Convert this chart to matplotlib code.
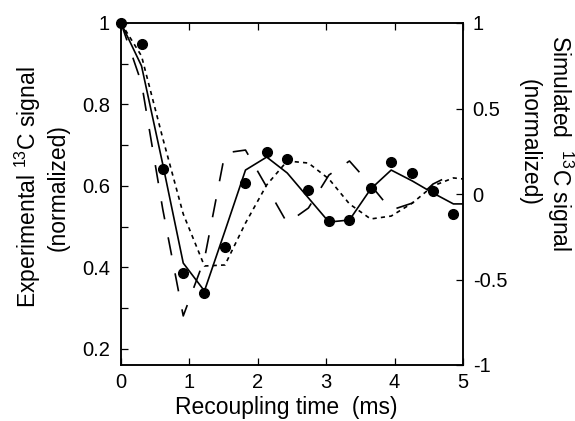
"""
REDOR-style recoupling curves: experimental points (left axis)
with three simulated curves (right axis).
"""

import matplotlib

matplotlib.use("Agg")
import matplotlib.pyplot as plt
from matplotlib.ticker import FormatStrFormatter, MultipleLocator

plt.rcParams["font.family"] = ["Liberation Sans", "DejaVu Sans"]
plt.rcParams["mathtext.fontset"] = "custom"
plt.rcParams["mathtext.rm"] = "Liberation Sans"
plt.rcParams["axes.unicode_minus"] = False

# experimental points, left axis
exp_time = [0.0, 0.30, 0.61, 0.91, 1.22, 1.52, 1.82, 2.13, 2.43,
            2.74, 3.04, 3.34, 3.65, 3.95, 4.26, 4.56, 4.86]
exp_signal = [1.0, 0.948, 0.641, 0.387, 0.337, 0.450, 0.608, 0.683, 0.666,
              0.590, 0.514, 0.517, 0.594, 0.658, 0.632, 0.588, 0.530]

# simulated curves, right axis
sim_time = [0.0, 0.30, 0.61, 0.91, 1.22, 1.52, 1.82, 2.13, 2.43,
            2.74, 3.04, 3.34, 3.65, 3.95, 4.26, 4.56, 4.86, 5.0]
sim_solid = [1.0, 0.749, 0.175, -0.404, -0.567, -0.216, 0.140, 0.216, 0.123,
             -0.023, -0.164, -0.152, 0.029, 0.140, 0.076, 0.006, -0.058, -0.058]
sim_dotted = [1.0, 0.807, 0.327, -0.117, -0.421, -0.415, -0.170, 0.053, 0.193,
              0.181, 0.088, -0.058, -0.146, -0.129, -0.053, 0.047, 0.094, 0.088]

dash_time = sim_time[:-1]
sim_dashed = [1.0, 0.649, -0.088, -0.713, -0.380, 0.240, 0.257, 0.041, -0.170,
              -0.082, 0.111, 0.193, 0.053, -0.094, -0.053, 0.058, 0.117]

xticks = [0, 1, 2, 3, 4, 5]
left_ticks = [0.2, 0.4, 0.6, 0.8, 1.0]
right_ticks = [-1, -0.5, 0, 0.5, 1]


def style_axis(ax):
    for spine in ax.spines.values():
        spine.set_linewidth(1.1)
    ax.tick_params(which="both", direction="in", length=5, width=0.9,
                   labelsize=14.5)


def main() -> None:
    fig = plt.figure(figsize=(5.75, 4.21), dpi=100)
    ax = fig.add_axes([121 / 575, 1 - 365 / 421, 342 / 575, 342 / 421])
    ax2 = ax.twinx()

    ax2.plot(sim_time, sim_solid, color="black", lw=1.2)
    ax2.plot(sim_time, sim_dotted, color="black", lw=1.2, dashes=(2.5, 2.5))
    ax2.plot(dash_time, sim_dashed, color="black", lw=1.2, dashes=(11, 11))
    ax.plot(exp_time, exp_signal, "o", color="black", ms=7, clip_on=False,
            zorder=5)
    ax.set_zorder(ax2.get_zorder() + 1)
    ax.patch.set_visible(False)

    ax.set_xlim(0, 5)
    ax.set_ylim(0.16, 1.0)
    ax2.set_ylim(-1, 1)

    ax.set_xticks(xticks)
    ax.set_yticks(left_ticks)
    ax.yaxis.set_minor_locator(MultipleLocator(0.1))
    ax.yaxis.set_major_formatter(FormatStrFormatter("%g"))
    ax2.set_yticks(right_ticks)
    ax2.yaxis.set_major_formatter(FormatStrFormatter("%g"))

    style_axis(ax)
    style_axis(ax2)
    ax.tick_params(axis="x", top=True, pad=6)
    ax.tick_params(axis="y", right=False, pad=8)
    ax2.tick_params(axis="y", pad=7)

    ax.set_xlabel("Recoupling time  (ms)", fontsize=16.5, va="center")
    ax.xaxis.set_label_coords(0.482, -0.123)
    ax.set_ylabel("Experimental $^{\\mathregular{13}}$C signal\n(normalized)",
                  fontsize=16.5, va="center", linespacing=1.2)
    ax.yaxis.set_label_coords(-0.234, 0.52)
    ax2.set_ylabel("Simulated  $^{\\mathregular{13}}$C signal\n(normalized)",
                   fontsize=16.5, rotation=270, va="center", linespacing=1.2)
    ax2.yaxis.set_label_coords(1.244, 0.65)

    fig.savefig("out.png", dpi=100)
    plt.close(fig)


if __name__ == "__main__":
    main()
